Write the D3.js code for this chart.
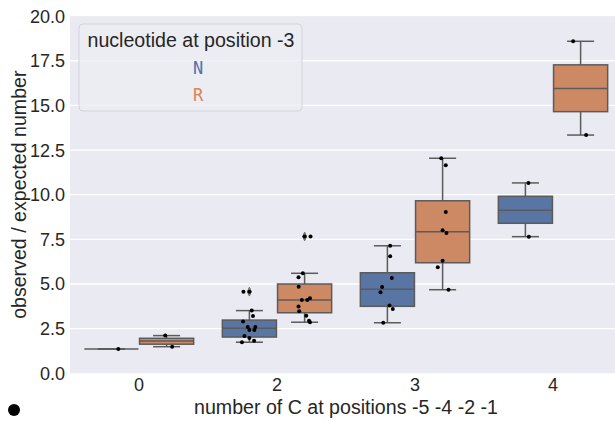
<!DOCTYPE html>
<html>
<head>
<meta charset="utf-8">
<script src="https://cdn.jsdelivr.net/npm/d3@7"></script>
<style>
  body { margin: 0; background: #ffffff; }
  svg { display: block; }
</style>
</head>
<body>
<script>
// categories on the x axis and the two hue levels
const categories = ["0", "2", "3", "4"];
const hues = ["N", "R"];

// box stats per category: [whiskerLow, q1, median, q3, whiskerHigh]
const boxStatsN = [
  [1.36, 1.36, 1.36, 1.36, 1.36],
  [1.74, 2.03, 2.52, 2.98, 3.51],
  [2.83, 3.75, 4.70, 5.63, 7.14],
  [7.65, 8.40, 9.13, 9.91, 10.66]
];
const boxStatsR = [
  [1.49, 1.63, 1.81, 1.96, 2.11],
  [2.86, 3.39, 4.10, 5.00, 5.60],
  [4.68, 6.19, 7.93, 9.66, 12.04],
  [13.34, 14.65, 15.95, 17.27, 18.59]
];

// outliers drawn by the boxplot
const fliersN = [[], [4.57, 4.57], [], []];
const fliersR = [[], [7.66, 7.66], [], []];

// individual observations (stripplot)
const pointsN = [
  [1.36],
  [4.57, 4.57, 3.52, 3.21, 2.90, 2.59, 2.59, 2.42, 2.42, 2.09, 1.97, 1.82, 1.74],
  [7.14, 6.55, 5.34, 4.83, 4.54, 3.79, 3.60, 2.83],
  [10.66, 7.65]
];
const pointsR = [
  [2.11, 1.49],
  [7.66, 7.66, 5.60, 5.38, 4.85, 4.10, 4.10, 4.20, 3.74, 3.48, 3.22, 2.94, 2.86],
  [12.04, 11.65, 9.03, 8.01, 7.86, 6.30, 5.94, 4.68],
  [18.59, 13.34]
];

const yTicks = [0, 2.5, 5, 7.5, 10, 12.5, 15, 17.5, 20];

// strip jitter (fraction of a category band)
const jitterN = [
  [0.05],
  [-0.043, 0, 0.017, 0.026, -0.046, -0.012, 0.043, 0, 0.036, -0.036, 0, 0.034, -0.054],
  [0.02, 0.02, 0.032, -0.038, -0.05, 0.015, 0.039, -0.03],
  [0.022, 0.025]
];
const jitterR = [
  [-0.01, 0.04],
  [0, 0.043, -0.013, -0.044, -0.043, -0.02, 0.019, 0.039, -0.044, -0.039, 0.012, 0.032, 0.039],
  [-0.01, 0.023, 0.023, 0, 0.028, 0, -0.035, 0.043],
  [-0.054, 0.04]
];

const W = 615, H = 422;
const colorsFill = { N: "#5875a4", R: "#cc8963" };
const colorsText = { N: "#4c72b0", R: "#dd8452" };
const lineColor = "#5b5b5b";
const font = "'Liberation Sans', Arial, sans-serif";

const svg = d3.select("body").append("svg")
  .attr("width", W).attr("height", H);

const x = d3.scaleBand().domain(categories).range([70, 622]).padding(0);
const y = d3.scaleLinear().domain([0, 20]).range([373.3, 16.1]);
const bw = x.bandwidth();
const hueOffset = d3.scaleBand().domain(hues).range([-0.4 * bw, 0.4 * bw]);
const boxW = hueOffset.bandwidth() * 0.98;

// background
svg.append("rect")
  .attr("x", x.range()[0]).attr("y", y(20))
  .attr("width", x.range()[1] - x.range()[0]).attr("height", y(0) - y(20))
  .attr("fill", "#eaeaf2");

// grid
svg.append("g").selectAll("line")
  .data(yTicks.slice(1, -1))
  .enter().append("line")
  .attr("x1", x.range()[0]).attr("x2", x.range()[1])
  .attr("y1", d => y(d)).attr("y2", d => y(d))
  .attr("stroke", "#ffffff").attr("stroke-width", 1.3);

// y tick labels
svg.append("g").selectAll("text")
  .data(yTicks)
  .enter().append("text")
  .attr("x", 65).attr("y", d => y(d))
  .attr("dy", "0.36em")
  .attr("text-anchor", "end")
  .style("font-family", font).style("font-size", "18px").style("fill", "#262626")
  .text(d => d3.format(".1f")(d));

// x tick labels
svg.append("g").selectAll("text")
  .data(categories)
  .enter().append("text")
  .attr("x", d => x(d) + bw / 2).attr("y", 391)
  .attr("text-anchor", "middle")
  .style("font-family", font).style("font-size", "18px").style("fill", "#262626")
  .text(d => d);

// axis labels
svg.append("text")
  .attr("x", (x.range()[0] + x.range()[1]) / 2).attr("y", 414)
  .attr("text-anchor", "middle")
  .style("font-family", font).style("font-size", "19.6px").style("fill", "#262626")
  .text("number of C at positions -5 -4 -2 -1");

svg.append("text")
  .attr("transform", "translate(26," + ((y(0) + y(20)) / 2) + ") rotate(-90)")
  .attr("text-anchor", "middle")
  .style("font-family", font).style("font-size", "19.6px").style("fill", "#262626")
  .text("observed / expected number");

// boxes
const groups = [];
hues.forEach(function(h) {
  const stats = h === "N" ? boxStatsN : boxStatsR;
  const fl = h === "N" ? fliersN : fliersR;
  const pts = h === "N" ? pointsN : pointsR;
  const jit = h === "N" ? jitterN : jitterR;
  categories.forEach(function(c, i) {
    groups.push({ hue: h, cat: c, s: stats[i], fliers: fl[i], pts: pts[i], jit: jit[i],
      cx: x(c) + bw / 2 + hueOffset(h) + hueOffset.bandwidth() / 2 });
  });
});

const g = svg.append("g").selectAll("g")
  .data(groups)
  .enter().append("g");

// whiskers
g.append("line")
  .attr("x1", d => d.cx).attr("x2", d => d.cx)
  .attr("y1", d => y(d.s[0])).attr("y2", d => y(d.s[1]))
  .attr("stroke", lineColor).attr("stroke-width", 1.5);
g.append("line")
  .attr("x1", d => d.cx).attr("x2", d => d.cx)
  .attr("y1", d => y(d.s[3])).attr("y2", d => y(d.s[4]))
  .attr("stroke", lineColor).attr("stroke-width", 1.5);
// caps
g.selectAll(".cap")
  .data(d => [d.s[0], d.s[4]].map(v => ({ v: v, cx: d.cx })))
  .enter().append("line")
  .attr("x1", d => d.cx - boxW / 4).attr("x2", d => d.cx + boxW / 4)
  .attr("y1", d => y(d.v)).attr("y2", d => y(d.v))
  .attr("stroke", lineColor).attr("stroke-width", 1.5);
// box
g.append("rect")
  .attr("x", d => d.cx - boxW / 2).attr("width", boxW)
  .attr("y", d => y(d.s[3])).attr("height", d => y(d.s[1]) - y(d.s[3]))
  .attr("fill", d => colorsFill[d.hue])
  .attr("stroke", lineColor).attr("stroke-width", 1.5);
// median
g.append("line")
  .attr("x1", d => d.cx - boxW / 2).attr("x2", d => d.cx + boxW / 2)
  .attr("y1", d => y(d.s[2])).attr("y2", d => y(d.s[2]))
  .attr("stroke", lineColor).attr("stroke-width", 1.5);
// fliers (diamonds)
g.selectAll(".flier")
  .data(d => d.fliers.map(v => ({ v: v, cx: d.cx })))
  .enter().append("path")
  .attr("d", d3.symbol().type(d3.symbolDiamond).size(22))
  .attr("transform", d => "translate(" + d.cx + "," + y(d.v) + ") scale(0.75,1)")
  .attr("fill", "#8a8a8a").attr("stroke", "#6b6b6b").attr("stroke-width", 0.8);
// strip points
g.selectAll(".pt")
  .data(d => d.pts.map((v, k) => ({ v: v, px: d.cx + d.jit[k] * bw })))
  .enter().append("circle")
  .attr("cx", d => d.px).attr("cy", d => y(d.v))
  .attr("r", 2)
  .attr("fill", "#000000");

// legend
const lg = svg.append("g");
lg.append("rect")
  .attr("x", 79).attr("y", 24).attr("width", 223).attr("height", 87)
  .attr("rx", 4)
  .attr("fill", "#ececf3").attr("fill-opacity", 0.8)
  .attr("stroke", "#d3d3da").attr("stroke-width", 1);
lg.append("text")
  .attr("x", 191).attr("y", 47)
  .attr("text-anchor", "middle")
  .style("font-family", font).style("font-size", "19.6px").style("fill", "#262626")
  .text("nucleotide at position -3");
lg.selectAll(".lab")
  .data(hues)
  .enter().append("text")
  .attr("x", 198).attr("y", (d, i) => 74 + i * 26.5)
  .attr("text-anchor", "middle")
  .style("font-family", "'DejaVu Sans Mono', monospace").style("font-size", "17px")
  .style("fill", d => colorsText[d])
  .text(d => d);

// stray bullet in the lower left corner
svg.append("circle")
  .attr("cx", 14).attr("cy", 410).attr("r", 6)
  .attr("fill", "#000000");
</script>
</body>
</html>
